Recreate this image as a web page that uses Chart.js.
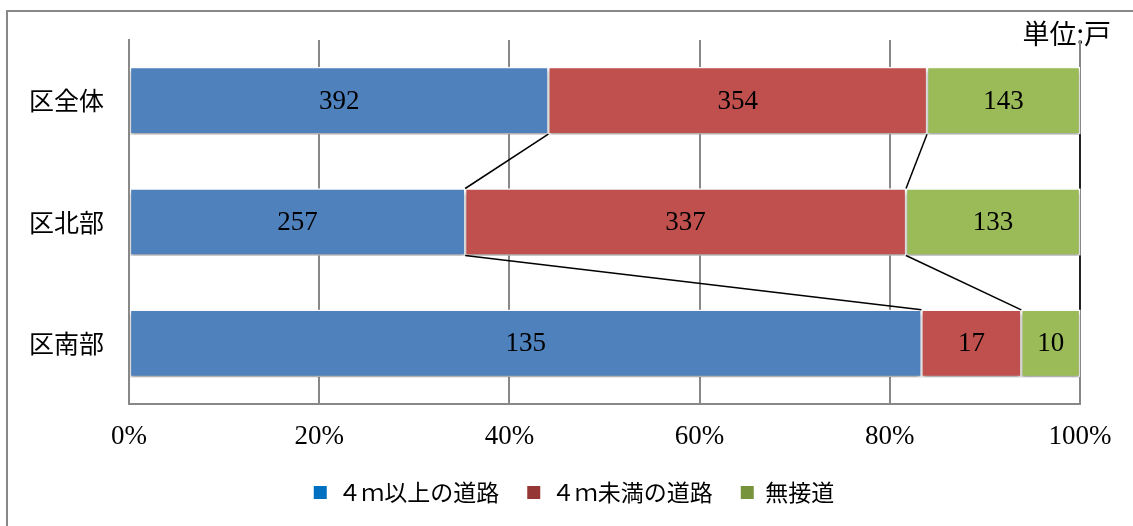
<!DOCTYPE html>
<html>
<head>
<meta charset="utf-8">
<script src="https://cdn.jsdelivr.net/npm/chart.js@4/dist/chart.umd.min.js"></script>
<style>
html,body{margin:0;padding:0;background:#fff;}
#wrap{width:1133px;height:526px;position:relative;}
</style>
</head>
<body>
<div id="wrap"><canvas id="c" width="1133" height="526"></canvas></div>
<script>
// ---- data ----
const categories = ['区全体', '区北部', '区南部'];
const seriesNames = ['４ｍ以上の道路', '４ｍ未満の道路', '無接道'];
const over4m = [392, 257, 135];
const under4m = [354, 337, 17];
const noAccess = [143, 133, 10];
const xTickLabels = ['0%', '20%', '40%', '60%', '80%', '100%'];
const unitLabel = '単位:戸';

// ---- styles ----
const barColors = ['#4F81BD', '#C0504D', '#9BBB59'];
const legendColors = ['#0070C0', '#953735', '#77933C'];

const counts = [over4m, under4m, noAccess];
const totals = categories.map((_, i) => counts.reduce((s, arr) => s + arr[i], 0));
const pct = counts.map(arr => arr.map((v, i) => v / totals[i] * 100));

const serifFont = '"Liberation Serif", "Times New Roman", serif';
const jpFont = '"Noto Sans CJK JP", "Noto Sans", sans-serif';

const framePlugin = {
  id: 'frame',
  beforeDraw(chart) {
    const ctx = chart.ctx;
    ctx.save();
    ctx.strokeStyle = '#888888';
    ctx.lineWidth = 2;
    ctx.beginPath();
    ctx.moveTo(7, 530);
    ctx.lineTo(7, 11);
    ctx.lineTo(1140, 11);
    ctx.stroke();
    ctx.fillStyle = '#000';
    ctx.font = '27px ' + jpFont;
    ctx.textAlign = 'right';
    ctx.textBaseline = 'middle';
    ctx.fillText(unitLabel, 1111, 34);
    ctx.restore();
  }
};

const legendShiftPlugin = {
  id: 'legendShift',
  afterLayout(chart) {
    if (chart.legend) {
      chart.legend.left += 34;
      chart.legend.right += 34;
      if (chart.legend.adjustHitBoxes) chart.legend.adjustHitBoxes();
    }
  }
};

const shadowPlugin = {
  id: 'shadow',
  beforeDatasetsDraw(chart) {
    const ctx = chart.ctx;
    ctx.save();
    ctx.shadowColor = 'rgba(0,0,0,0.35)';
    ctx.shadowBlur = 4;
    ctx.shadowOffsetX = 0;
    ctx.shadowOffsetY = 3;
  },
  afterDatasetsDraw(chart) {
    chart.ctx.restore();
  }
};

const seriesLinesPlugin = {
  id: 'seriesLines',
  afterDatasetsDraw(chart) {
    const ctx = chart.ctx;
    ctx.save();
    ctx.strokeStyle = '#000';
    ctx.lineWidth = 1.5;
    chart.data.datasets.forEach((ds, d) => {
      const meta = chart.getDatasetMeta(d);
      for (let i = 0; i < meta.data.length - 1; i++) {
        const a = meta.data[i], b = meta.data[i + 1];
        ctx.beginPath();
        ctx.moveTo(a.x, a.y + a.height / 2);
        ctx.lineTo(b.x, b.y - b.height / 2);
        ctx.stroke();
      }
    });
    ctx.restore();
  }
};

const valueLabelPlugin = {
  id: 'valueLabels',
  afterDatasetsDraw(chart) {
    const ctx = chart.ctx;
    ctx.save();
    ctx.fillStyle = '#000';
    ctx.font = '27px ' + serifFont;
    ctx.textAlign = 'center';
    ctx.textBaseline = 'middle';
    chart.data.datasets.forEach((ds, d) => {
      const meta = chart.getDatasetMeta(d);
      meta.data.forEach((el, i) => {
        ctx.fillText(String(counts[d][i]), (el.x + el.base) / 2, el.y + 1);
      });
    });
    ctx.restore();
  }
};

new Chart(document.getElementById('c'), {
  type: 'bar',
  data: {
    labels: categories,
    datasets: seriesNames.map((name, d) => ({
      label: name,
      data: pct[d],
      backgroundColor: barColors[d],
      borderColor: '#ffffff',
      borderWidth: 1.5,
      borderSkipped: false,
      barThickness: 67
    }))
  },
  options: {
    indexAxis: 'y',
    responsive: false,
    animation: false,
    devicePixelRatio: 1,
    layout: { padding: { left: 0, right: 53, top: 40, bottom: 12 } },
    scales: {
      x: {
        stacked: true,
        min: 0,
        max: 100,
        ticks: {
          stepSize: 20,
          padding: 17,
          color: '#000',
          font: { family: serifFont, size: 27 },
          callback: (v) => xTickLabels[Math.round(v / 20)]
        },
        grid: { color: '#888888', lineWidth: 2, drawTicks: false },
        border: { display: true, color: '#888888', width: 2 },
        afterFit(scale) { scale.height = 49; }
      },
      y: {
        stacked: true,
        ticks: {
          padding: 25,
          color: '#000',
          font: { family: jpFont, size: 25 }
        },
        grid: { display: false, drawTicks: false },
        border: { display: true, color: '#888888', width: 2 },
        afterFit(scale) { scale.width = 129; }
      }
    },
    plugins: {
      tooltip: { enabled: false },
      legend: {
        position: 'bottom',
        labels: {
          color: '#000',
          font: { family: jpFont, size: 23 },
          boxWidth: 13,
          boxHeight: 13,
          padding: 28,
          generateLabels(chart) {
            return chart.data.datasets.map((ds, i) => ({
              text: ds.label,
              fillStyle: legendColors[i],
              strokeStyle: legendColors[i],
              lineWidth: 0,
              fontColor: '#000',
              hidden: false,
              datasetIndex: i
            }));
          }
        }
      }
    }
  },
  plugins: [framePlugin, legendShiftPlugin, shadowPlugin, seriesLinesPlugin, valueLabelPlugin]
});
</script>
</body>
</html>
